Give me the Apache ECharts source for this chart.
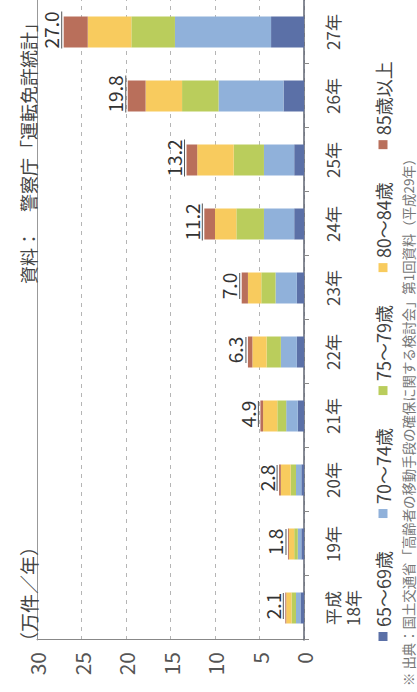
<!DOCTYPE html>
<html>
<head>
<meta charset="utf-8">
<script src="https://cdn.jsdelivr.net/npm/echarts@6/dist/echarts.min.js"></script>
<style>
  html, body { margin: 0; padding: 0; background: #fff; overflow: hidden; }
  body { width: 417px; height: 692px; position: relative; }
  /* chart is laid out landscape and turned a quarter turn counter-clockwise */
  #chart {
    position: absolute; left: 0; top: 0;
    width: 692px; height: 417px;
    transform-origin: 0 0;
    transform: translate(0, 692px) rotate(-90deg);
  }
</style>
</head>
<body>
<div id="chart"></div>
<script>
// 運転免許の申請取消（自主返納）件数, 65歳以上, 万件/年
const categories = ['平成\n18年', '19年', '20年', '21年', '22年', '23年', '24年', '25年', '26年', '27年'];
const totals   = [2.1, 1.8, 2.8, 4.9, 6.3, 7.0, 11.2, 13.2, 19.8, 27.0];
const age65_69 = [0.4, 0.3, 0.3, 0.7, 0.8, 0.8, 1.1, 1.1, 2.3, 3.7];
const age70_74 = [0.5, 0.4, 0.6, 1.3, 1.8, 2.4, 3.4, 3.4, 7.3, 10.8];
const age75_79 = [0.5, 0.4, 0.6, 1.0, 1.6, 1.6, 3.1, 3.4, 4.1, 4.9];
const age80_84 = [0.6, 0.6, 1.1, 1.6, 1.6, 1.5, 2.4, 4.1, 4.1, 4.9];
const age85_up = [0.1, 0.1, 0.2, 0.3, 0.5, 0.7, 1.2, 1.2, 2.0, 2.7];
const seriesNames = ['65～69歳', '70～74歳', '75～79歳', '80～84歳', '85歳以上'];
const valueTicks = [0, 5, 10, 15, 20, 25, 30];

const colors = ['#5b70a7', '#90b1da', '#bacd5c', '#f8cb5e', '#b96f5b'];
const FONT = '"Noto Sans CJK JP", "Noto Sans", sans-serif';
const LABEL_SIZE = 19;

// width of a total label, used for the rule drawn under it
const measureCtx = document.createElement('canvas').getContext('2d');
measureCtx.font = LABEL_SIZE + 'px ' + FONT;
const textWidth = s => Math.round(measureCtx.measureText(s).width);

const chart = echarts.init(document.getElementById('chart'), null, { renderer: 'svg' });

const stackData = [age65_69, age70_74, age75_79, age80_84, age85_up];
const series = stackData.map((arr, i) => ({
  name: seriesNames[i],
  type: 'bar',
  stack: 'total',
  barWidth: 31,
  data: arr,
  itemStyle: { color: colors[i] },
  label: i === stackData.length - 1 ? {
    show: true,
    position: 'top',
    distance: 1,
    offset: [2, 0],
    formatter: p => {
      const s = totals[p.dataIndex].toFixed(1);
      return '{v|' + s + '}\n{u' + textWidth(s) + '|}';
    },
    rich: Object.assign(
      { v: { fontFamily: FONT, fontSize: LABEL_SIZE, color: '#333', lineHeight: 20 } },
      ...totals.map(t => {
        const w = textWidth(t.toFixed(1));
        return { ['u' + w]: { width: w, height: 1, lineHeight: 2, backgroundColor: '#555' } };
      })
    )
  } : { show: false }
}));

chart.setOption({
  animation: false,
  backgroundColor: '#fff',
  color: colors,
  grid: { left: 52, right: -2, top: 37, bottom: 113 },
  title: [
    {
      text: '（万件／年）',
      left: 41, top: 19, padding: 0,
      textStyle: { fontFamily: FONT, fontSize: 19, fontWeight: 'normal', color: '#444' }
    },
    {
      text: '資料：　警察庁「運転免許統計」',
      right: 14, top: 19, padding: 0,
      textStyle: { fontFamily: FONT, fontSize: 18, fontWeight: 'normal', color: '#444' }
    },
    {
      text: '※ 出典：国土交通省「高齢者の移動手段の確保に関する検討会」第1回資料（平成29年）',
      left: 6, top: 401, padding: 0,
      textStyle: { fontFamily: FONT, fontSize: 13.4, fontWeight: 'normal', color: '#777' }
    }
  ],
  legend: {
    data: seriesNames,
    left: 46, top: 369,
    icon: 'rect',
    itemWidth: 9, itemHeight: 9,
    itemGap: 33,
    textStyle: { fontFamily: FONT, fontSize: 18, color: '#444' }
  },
  xAxis: [
    {
      type: 'category',
      data: categories,
      axisLine: { lineStyle: { color: '#5f6472', width: 1.5 } },
      axisTick: { show: true, length: 5, lineStyle: { color: '#888' } },
      axisLabel: {
        fontFamily: FONT, fontSize: 17, color: '#444',
        margin: 18, lineHeight: 20, interval: 0
      }
    },
    {
      type: 'category',
      data: categories,
      position: 'top',
      axisLine: { show: true, lineStyle: { color: '#999', width: 1 } },
      axisTick: { show: false },
      axisLabel: { show: false }
    }
  ],
  yAxis: {
    type: 'value',
    min: valueTicks[0],
    max: valueTicks[valueTicks.length - 1],
    interval: 5,
    axisLine: { show: true, lineStyle: { color: '#888', width: 1 } },
    axisTick: { show: false },
    axisLabel: { fontFamily: FONT, fontSize: 21, color: '#555', margin: 12 },
    splitLine: { lineStyle: { color: '#b5b5b5', type: [4, 5] } }
  },
  series
});
</script>
</body>
</html>
